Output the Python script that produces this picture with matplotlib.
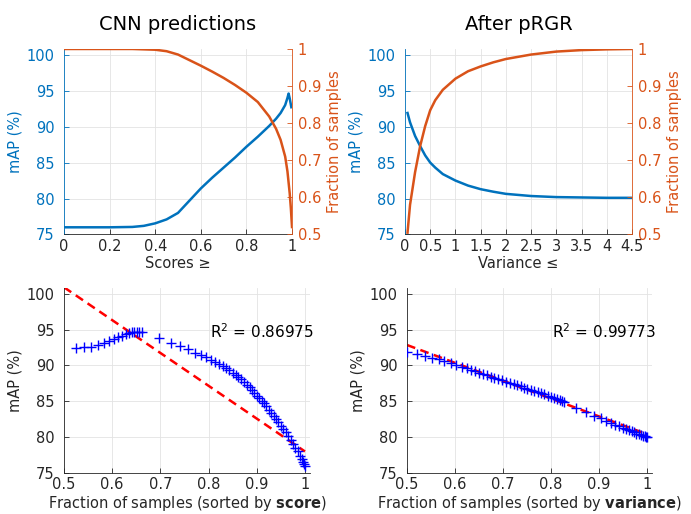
import numpy as np
import matplotlib
matplotlib.use("Agg")
import matplotlib.pyplot as plt

plt.rcParams["font.family"] = ["DejaVu Sans"]
plt.rcParams["mathtext.fontset"] = "dejavusans"

BLUE = "#0072BD"
ORANGE = "#D95319"
DARK = "#262626"
GRID = "#e3e3e3"

# top-left: mAP and fraction of samples vs. score threshold
score_thr_map = [0.0, 0.1, 0.2, 0.3, 0.35, 0.4, 0.45, 0.5, 0.55, 0.6, 0.65, 0.7, 0.75,
                 0.8, 0.85, 0.9, 0.93, 0.95, 0.97, 0.98, 0.985, 0.99, 0.997]
score_map = [76.0, 76.0, 76.0, 76.05, 76.2, 76.55, 77.1, 78.0, 79.7, 81.4, 82.9, 84.3, 85.7,
             87.2, 88.6, 90.1, 91.1, 91.9, 93.0, 94.0, 94.6, 93.9, 92.7]
score_thr_frac = [0.0, 0.3, 0.4, 0.45, 0.5, 0.55, 0.6, 0.65, 0.7, 0.75, 0.8, 0.85, 0.9,
                  0.93, 0.95, 0.97, 0.98, 0.99, 0.995, 1.0]
score_frac = [1.0, 1.0, 0.998, 0.994, 0.985, 0.97, 0.955, 0.939, 0.922, 0.903, 0.882, 0.857,
              0.818, 0.785, 0.755, 0.71, 0.67, 0.61, 0.57, 0.52]

# top-right: mAP and fraction of samples vs. variance threshold
var_thr = [0.05, 0.1, 0.2, 0.3, 0.4, 0.5, 0.6, 0.75, 1.0, 1.25, 1.5, 1.75, 2.0, 2.5, 3.0,
           3.5, 4.0, 4.5]
var_map = [91.9, 90.6, 88.7, 87.3, 86.0, 85.0, 84.3, 83.4, 82.5, 81.8, 81.3, 80.95, 80.65,
           80.35, 80.2, 80.15, 80.1, 80.1]
var_frac = [0.505, 0.58, 0.668, 0.738, 0.792, 0.835, 0.862, 0.89, 0.92, 0.94, 0.953, 0.964,
            0.973, 0.985, 0.993, 0.997, 0.999, 1.0]

# bottom-left: mAP vs fraction (sorted by score)
bl_frac = [0.524, 0.541, 0.557, 0.571, 0.583, 0.593, 0.603, 0.612, 0.620, 0.628, 0.635,
           0.641, 0.646, 0.651, 0.656, 0.661, 0.697, 0.721, 0.740, 0.757, 0.772, 0.784,
           0.795, 0.805, 0.813, 0.821, 0.829, 0.836, 0.843, 0.850, 0.856, 0.862, 0.868,
           0.874, 0.880, 0.885, 0.890, 0.895, 0.900, 0.905, 0.910, 0.915, 0.920, 0.925,
           0.930, 0.935, 0.940, 0.945, 0.950, 0.955, 0.960, 0.965, 0.970, 0.975, 0.980,
           0.985, 0.990, 0.993, 0.996, 0.998, 1.0]
bl_map = [92.5, 92.6, 92.6, 92.8, 93.1, 93.4, 93.7, 93.9, 94.1, 94.4, 94.55,
          94.6, 94.6, 94.6, 94.6, 94.6, 93.8, 93.1, 92.7, 92.3, 91.8, 91.5,
          91.2, 90.8, 90.5, 90.2, 89.9, 89.6, 89.3, 89.0, 88.7, 88.4, 88.1,
          87.7, 87.3, 87.0, 86.6, 86.2, 85.8, 85.5, 85.1, 84.7, 84.3, 83.8,
          83.4, 83.0, 82.5, 82.1, 81.6, 81.2, 80.7, 80.2, 79.6, 79.1, 78.5,
          78.0, 77.4, 77.0, 76.6, 76.3, 76.0]
bl_fit = [-45.8, 123.8]  # slope, intercept
bl_r2 = "0.86975"

# bottom-right: mAP vs fraction (sorted by variance)
br_frac = [0.500, 0.521, 0.537, 0.552, 0.566, 0.578, 0.591, 0.603, 0.614, 0.624, 0.633,
           0.642, 0.650, 0.658, 0.666, 0.674, 0.682, 0.690, 0.698, 0.706, 0.714, 0.722,
           0.730, 0.737, 0.744, 0.751, 0.758, 0.765, 0.772, 0.779, 0.786, 0.793, 0.800,
           0.806, 0.812, 0.818, 0.823, 0.828, 0.852, 0.873, 0.890, 0.904, 0.915, 0.925,
           0.934, 0.942, 0.949, 0.956, 0.962, 0.968, 0.973, 0.978, 0.983, 0.987, 0.991,
           0.995, 0.998, 1.0]
br_map = [91.9, 91.65, 91.35, 91.1, 90.9, 90.65, 90.35, 90.1, 89.85, 89.6, 89.4,
          89.2, 89.0, 88.85, 88.65, 88.45, 88.3, 88.1, 87.95, 87.75, 87.6, 87.4,
          87.25, 87.1, 86.9, 86.75, 86.6, 86.45, 86.3, 86.15, 86.0, 85.8, 85.65,
          85.5, 85.3, 85.15, 85.0, 84.85, 84.1, 83.5, 83.0, 82.6, 82.3, 82.0,
          81.75, 81.5, 81.3, 81.1, 80.95, 80.8, 80.65, 80.5, 80.4, 80.3, 80.2,
          80.1, 80.05, 80.0]
br_fit = [-24.9, 105.3]
br_r2 = "0.99773"

map_ticks = [75, 80, 85, 90, 95, 100]
frac_ticks = [0.5, 0.6, 0.7, 0.8, 0.9, 1.0]
frac_labels = ["0.5", "0.6", "0.7", "0.8", "0.9", "1"]
score_ticks = [0, 0.2, 0.4, 0.6, 0.8, 1.0]
score_labels = ["0", "0.2", "0.4", "0.6", "0.8", "1"]
var_ticks = [0, 0.5, 1, 1.5, 2, 2.5, 3, 3.5, 4, 4.5]
var_labels = ["0", "0.5", "1", "1.5", "2", "2.5", "3", "3.5", "4", "4.5"]

FS = 10.5


def style_ticks(ax, color, which="y", pad=4):
    ax.tick_params(axis=which, direction="in", length=3.5, width=0.6,
                   colors=color, labelsize=FS, pad=pad)


def top_panel(pos, x_map, y_map, x_frac, y_frac, xticks, xlabels, xlim, xlabel, title):
    ax = fig.add_axes(pos)
    ax.plot(x_map, y_map, color=BLUE, lw=1.8)
    ax.set_xlim(*xlim)
    ax.set_ylim(75, 100.8)
    ax.set_yticks(map_ticks)
    ax.set_yticklabels([str(t) for t in map_ticks])
    ax.set_xticks(xticks)
    ax.set_xticklabels(xlabels)
    ax.grid(True, color=GRID, lw=0.6)
    ax.set_axisbelow(True)
    style_ticks(ax, BLUE, "y", pad=7)
    style_ticks(ax, DARK, "x", pad=3)
    ax.set_ylabel("mAP (%)", color=BLUE, fontsize=FS, labelpad=3)
    ax.set_xlabel(xlabel, color=DARK, fontsize=FS, labelpad=2)
    ax.set_title(title, fontsize=14, pad=14)
    ax.spines["left"].set_color(BLUE)
    ax.spines["bottom"].set_color(DARK)
    ax.spines["top"].set_visible(False)
    ax.spines["right"].set_visible(False)
    for s in ax.spines.values():
        s.set_linewidth(0.6)

    ax2 = ax.twinx()
    ax2.plot(x_frac, y_frac, color=ORANGE, lw=1.8)
    ax2.set_ylim(0.5, 1.0)
    ax2.set_yticks(frac_ticks)
    ax2.set_yticklabels(frac_labels)
    style_ticks(ax2, ORANGE, "y", pad=4)
    ax2.set_ylabel("Fraction of samples", color=ORANGE, fontsize=FS, labelpad=4)
    ax2.spines["right"].set_color(ORANGE)
    ax2.spines["right"].set_linewidth(0.6)
    for k in ("left", "top", "bottom"):
        ax2.spines[k].set_visible(False)
    return ax


def bottom_panel(pos, frac, mp, fit, r2, sortkey):
    ax = fig.add_axes(pos)
    xs = np.array([0.5, 1.0])
    ax.plot(xs, fit[0] * xs + fit[1], color="red", lw=1.8, ls=(0, (3.5, 2.2)), zorder=2)
    ax.plot(frac, mp, ls="none", marker="+", ms=6.5, mew=1.0, color="blue", zorder=3)
    ax.set_xlim(0.5, 1.0104)
    ax.set_ylim(75, 100.8)
    ax.set_xticks(frac_ticks)
    ax.set_xticklabels(frac_labels)
    ax.set_yticks(map_ticks)
    ax.set_yticklabels([str(t) for t in map_ticks])
    ax.grid(True, color=GRID, lw=0.6)
    ax.set_axisbelow(True)
    style_ticks(ax, DARK, "y", pad=7)
    style_ticks(ax, DARK, "x", pad=3)
    ax.set_ylabel("mAP (%)", color=DARK, fontsize=FS, labelpad=3)
    ax.set_xlabel("Fraction of samples (sorted by $\\mathbf{%s}$)" % sortkey,
                  color=DARK, fontsize=FS, labelpad=1)
    ax.spines["top"].set_visible(False)
    ax.spines["right"].set_visible(False)
    for k in ("left", "bottom"):
        ax.spines[k].set_color(DARK)
        ax.spines[k].set_linewidth(0.6)
    ax.text(0.802, 94.7, "R$^2$ = " + r2, fontsize=11, va="center", ha="left")
    return ax


fig = plt.figure(figsize=(6.91, 5.14), dpi=100)

top_panel([0.0926, 0.5438, 0.330, 0.3609], score_thr_map, score_map,
          score_thr_frac, score_frac, score_ticks, score_labels, (0, 1),
          "Scores \u2265", "CNN predictions")
top_panel([0.5861, 0.5438, 0.3285, 0.3609], var_thr, var_map,
          var_thr, var_frac, var_ticks, var_labels, (0, 4.5),
          "Variance \u2264", "After pRGR")

bottom_panel([0.0926, 0.0798, 0.356, 0.3599], bl_frac, bl_map, bl_fit, bl_r2, "score")
bottom_panel([0.589, 0.0798, 0.3546, 0.3599], br_frac, br_map, br_fit, br_r2, "variance")

fig.savefig("out.png", dpi=100)
